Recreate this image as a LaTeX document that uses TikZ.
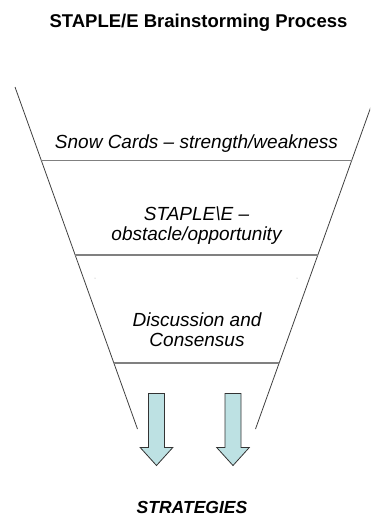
\documentclass[tikz,border=0pt]{standalone}
\usepackage{fontspec}
\setmainfont{Liberation Sans}
\usetikzlibrary{calc}
\definecolor{arrowfill}{HTML}{BDE1E3}
\begin{document}
\begin{tikzpicture}[x=1pt,y=-1pt,
  side/.style={draw=black!75, line width=0.8pt},
  tier/.style={draw=black!50, line width=1.3pt},
  stage/.style={font=\fontsize{19}{22}\selectfont\itshape, inner sep=0pt, anchor=base},
  heading/.style={font=\fontsize{18.5}{22}\selectfont\bfseries, inner sep=0pt, anchor=base},
  downarrow/.style={draw=black!80, line width=0.8pt, fill=arrowfill, line join=miter},
  speck/.style={fill=black!35, inner sep=0pt, minimum size=1pt, circle},
]
\useasboundingbox (0,0) rectangle (370,517);
\clip (0,0) rectangle (370,517);

% title
\node[heading] (title) at (198.5,27) {STAPLE/E Brainstorming Process};

% funnel sides
\coordinate (lt) at (15,87);
\coordinate (lb) at (137.5,429);
\coordinate (rt) at (378,87);
\coordinate (rb) at (255.5,429);
\draw[side] (lt) -- (lb);
\draw[side] (rt) -- (rb);

% tier separators
\draw[tier] ($(lt)!0.215!(lb)$) -- ($(rt)!0.215!(rb)$);
\draw[tier] ($(lt)!0.491!(lb)$) -- ($(rt)!0.491!(rb)$);
\draw[tier] ($(lt)!0.807!(lb)$) -- ($(rt)!0.807!(rb)$);

% stage labels
\node[stage] (snow) at (196.5,148.5) {Snow Cards – strength/weakness};
\node[stage] (staple) at (196.5,220.7) {STAPLE\textbackslash E –};
\node[stage] (obst) at (196.5,240.2) {obstacle/opportunity};
\node[stage] (disc) at (197,326.7) {Discussion and};
\node[stage] (cons) at (197,346.5) {Consensus};

% small specks in the third tier
\node[speck] (speckl) at (95,278) {};
\node[speck] (speckr) at (297,278) {};

% output arrows
\draw[downarrow] (148.5,393.5) -- (164.5,393.5) -- (164.5,447.5) -- (172.8,447.5)
  -- (156.5,465.5) -- (140.2,447.5) -- (148.5,447.5) -- cycle;
\draw[downarrow] (225,393.5) -- (241,393.5) -- (241,447.5) -- (249.3,447.5)
  -- (233,465.5) -- (216.7,447.5) -- (225,447.5) -- cycle;

% result
\node[heading, font=\fontsize{17.5}{20}\selectfont\bfseries\itshape] (result) at (192,513) {STRATEGIES};
\end{tikzpicture}
\end{document}
